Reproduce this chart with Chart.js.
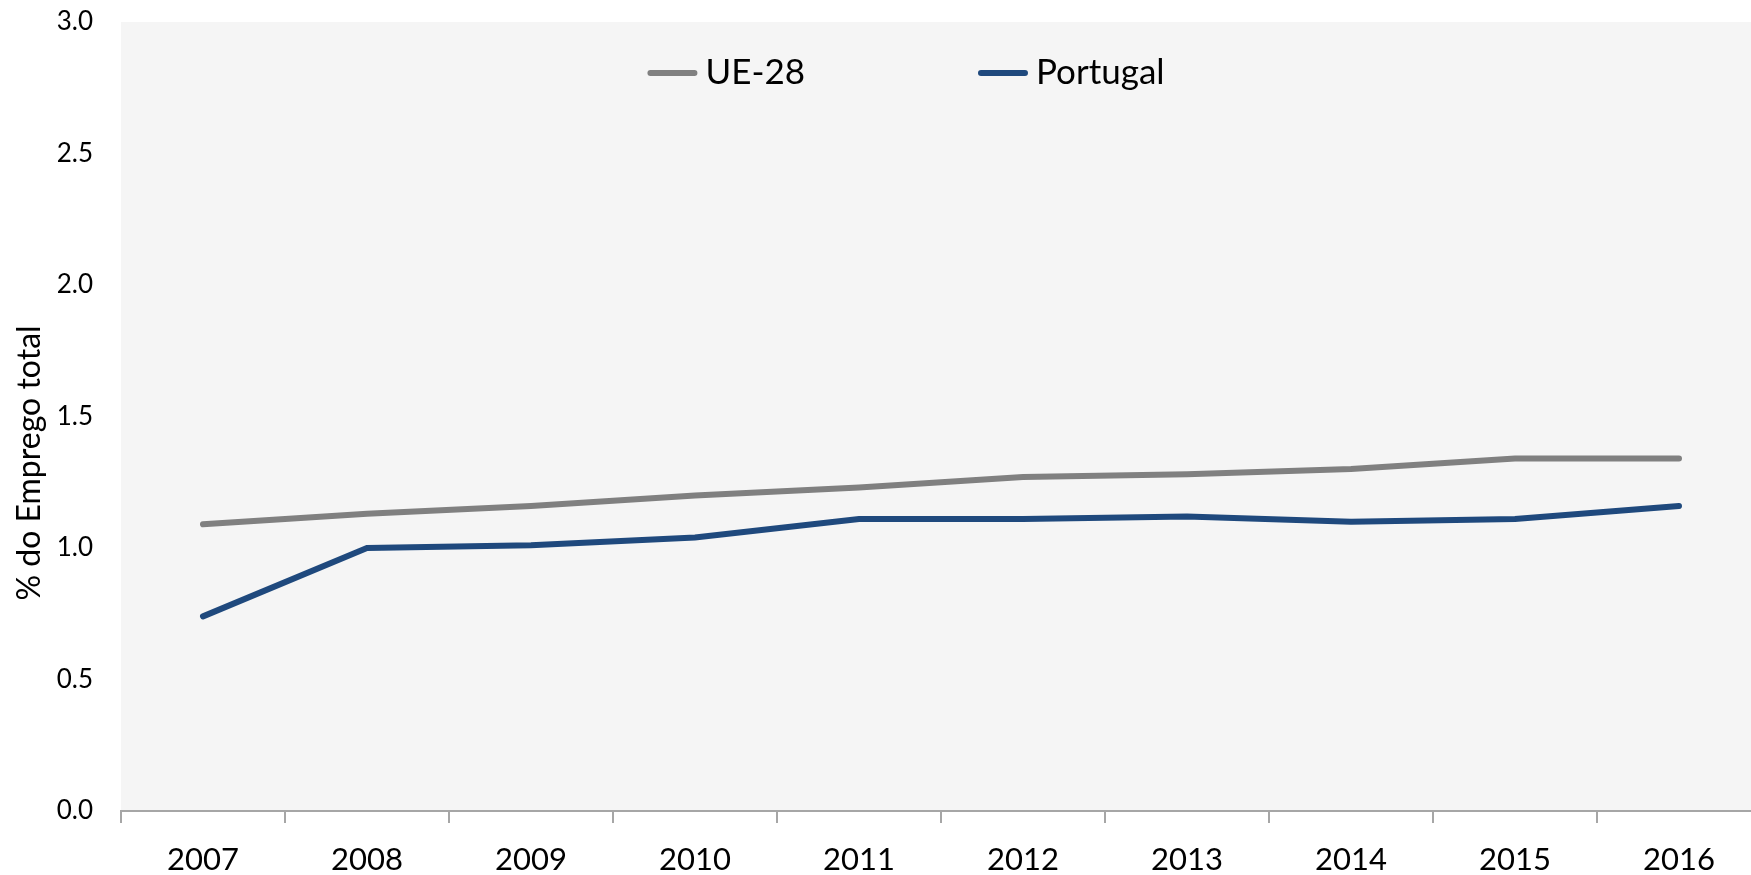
<!DOCTYPE html>
<html>
<head>
<meta charset="utf-8">
<script src="https://cdn.jsdelivr.net/npm/chart.js@4.4.1/dist/chart.umd.min.js"></script>
<style>
  html, body { margin: 0; padding: 0; background: #ffffff; overflow: hidden; }
  #wrap { width: 1800px; height: 900px; }
</style>
</head>
<body>
<div id="wrap"><canvas id="empregoChart" width="1800" height="900"></canvas></div>
<script>
// dados
const anos = ["2007", "2008", "2009", "2010", "2011", "2012", "2013", "2014", "2015", "2016"];
const ue28 = [1.09, 1.13, 1.16, 1.20, 1.23, 1.27, 1.28, 1.30, 1.34, 1.34];
const portugal = [0.74, 1.00, 1.01, 1.04, 1.11, 1.11, 1.12, 1.10, 1.11, 1.16];
const yTicks = [0.0, 0.5, 1.0, 1.5, 2.0, 2.5, 3.0];
const yTitulo = "% do Emprego total";

const FONT = "Lato, 'Open Sans', sans-serif";

// fundo cinzento da área do gráfico
const plotBackground = {
    id: "plotBackground",
    beforeDraw(chart) {
        const { ctx, chartArea } = chart;
        ctx.save();
        ctx.fillStyle = "#f5f5f5";
        ctx.fillRect(chartArea.left, chartArea.top, chartArea.right - chartArea.left, chartArea.bottom - chartArea.top);
        ctx.restore();
    }
};

// título do eixo y (no original não está centrado no eixo)
const yTitle = {
    id: "yTitle",
    afterDraw(chart) {
        const ctx = chart.ctx;
        ctx.save();
        ctx.translate(30, 463);
        ctx.rotate(-Math.PI / 2);
        ctx.font = "32px " + FONT;
        ctx.fillStyle = "#000000";
        ctx.textAlign = "center";
        ctx.textBaseline = "middle";
        ctx.fillText(yTitulo, 0, 0);
        ctx.restore();
    }
};

// legenda dentro da área, como no original
const innerLegend = {
    id: "innerLegend",
    afterDraw(chart) {
        const ctx = chart.ctx;
        const lineLen = 50, textGap = 8, itemGap = 173;
        ctx.save();
        ctx.font = "35px " + FONT;
        ctx.textBaseline = "middle";
        const items = chart.data.datasets.map(ds => ({
            text: ds.label,
            color: ds.borderColor,
            w: lineLen + textGap + ctx.measureText(ds.label).width
        }));
        const total = items.reduce((s, it) => s + it.w, 0) + itemGap * (items.length - 1);
        let x = 906 - total / 2;
        const y = 73;
        items.forEach(it => {
            ctx.strokeStyle = it.color;
            ctx.lineWidth = 6;
            ctx.lineCap = "round";
            ctx.beginPath();
            ctx.moveTo(x + 3, y);
            ctx.lineTo(x + lineLen - 3, y);
            ctx.stroke();
            ctx.fillStyle = "#000000";
            ctx.fillText(it.text, x + lineLen + textGap, y);
            x += it.w + itemGap;
        });
        ctx.restore();
    }
};

const ctx = document.getElementById("empregoChart").getContext("2d");

new Chart(ctx, {
    type: "line",
    data: {
        labels: anos,
        datasets: [{
            label: "UE-28",
            data: ue28,
            borderColor: "#808080",
            backgroundColor: "#808080",
            borderWidth: 6,
            borderCapStyle: "round",
            pointRadius: 0,
            tension: 0
        }, {
            label: "Portugal",
            data: portugal,
            borderColor: "#1f497d",
            backgroundColor: "#1f497d",
            borderWidth: 6,
            borderCapStyle: "round",
            pointRadius: 0,
            tension: 0
        }]
    },
    options: {
        responsive: false,
        animation: false,
        layout: { padding: { top: 22, right: 39, left: 0, bottom: 0 } },
        plugins: {
            legend: { display: false },
            tooltip: { enabled: false }
        },
        scales: {
            x: {
                offset: true,
                grid: {
                    offset: true,
                    drawOnChartArea: false,
                    drawTicks: true,
                    tickLength: 12,
                    color: "#a6a6a6",
                    lineWidth: 2
                },
                border: { display: true, color: "#a6a6a6", width: 2 },
                ticks: {
                    color: "#000000",
                    padding: 18,
                    maxRotation: 0,
                    font: { family: FONT, size: 31 }
                },
                afterFit(scale) {
                    scale.height = 89;
                    scale.paddingTop = 0;
                    scale.paddingBottom = 0;
                }
            },
            y: {
                min: 0,
                max: 3,
                afterBuildTicks(scale) {
                    scale.ticks = yTicks.map(v => ({ value: v }));
                },
                grid: { display: false, drawTicks: false },
                border: { display: false },
                ticks: {
                    color: "#000000",
                    padding: 28,
                    font: { family: FONT, size: 26 },
                    callback: v => Number(v).toFixed(1)
                },
                afterFit(scale) {
                    scale.width = 121;
                    scale.paddingTop = 0;
                    scale.paddingBottom = 0;
                }
            }
        }
    },
    plugins: [plotBackground, yTitle, innerLegend]
});
</script>
</body>
</html>
